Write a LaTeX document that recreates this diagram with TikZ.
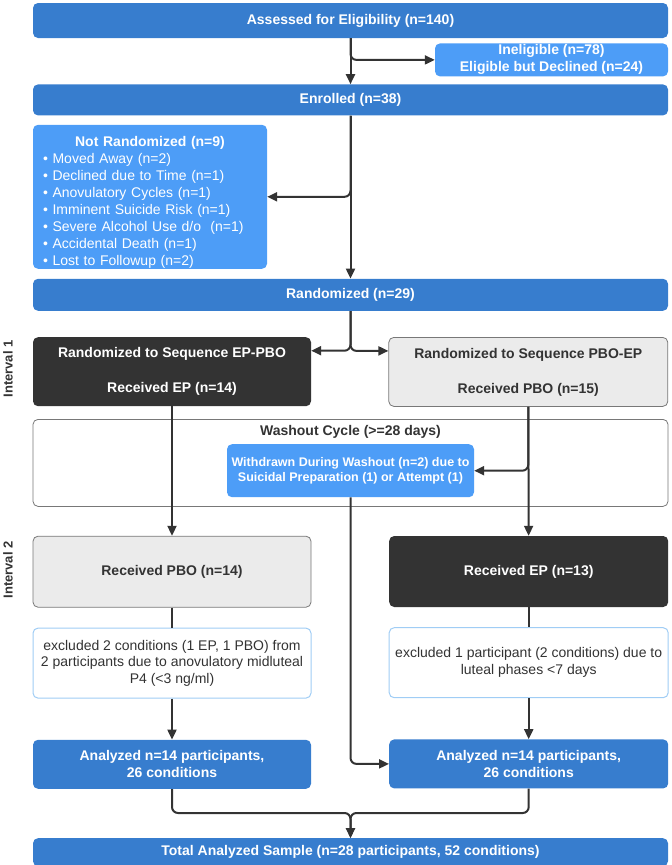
\documentclass[tikz,border=0pt]{standalone}
\usepackage{fontspec}
\setmainfont{Liberation Sans}
\usepackage{xcolor}
\usetikzlibrary{arrows.meta,positioning,calc}

\definecolor{mainblue}{RGB}{55,125,206}
\definecolor{paleblue}{RGB}{77,157,247}
\definecolor{darkfill}{RGB}{51,51,51}
\definecolor{greyfill}{RGB}{235,235,235}
\definecolor{greyedge}{RGB}{120,120,120}
\definecolor{noteedge}{RGB}{160,205,245}
\definecolor{inkgrey}{RGB}{51,51,51}

\begin{document}
\begin{tikzpicture}[
            x=1pt, y=1pt,
            box/.style={rectangle, rounded corners=5pt, align=center, inner sep=0pt, font=\fontsize{14}{17}\selectfont\bfseries},
            bluebox/.style={box, fill=mainblue, text=white},
            palebox/.style={box, fill=paleblue, text=white},
            darkbox/.style={box, fill=darkfill, text=white},
            greybox/.style={box, fill=greyfill, draw=greyedge, line width=0.8pt, text=inkgrey},
            notebox/.style={box, fill=white, draw=noteedge, line width=1pt, text=inkgrey, font=\fontsize{14}{16.7}\selectfont},
            interval/.style={rotate=90, text=inkgrey, font=\fontsize{13}{15}\selectfont\bfseries},
            line/.style={draw=inkgrey, line width=2pt, rounded corners=6pt},
            arrow/.style={line, ->, >={Triangle[length=10pt, width=9pt]}}
        ]
            \useasboundingbox (0,0) rectangle (672,-865);

            % Screening
            \node[bluebox, minimum width=635pt, minimum height=35pt] (assess) at (350.5,-20.5) {Assessed for Eligibility (n=140)};
            \node[palebox, minimum width=233pt, minimum height=33pt, below=5pt of assess.south east, anchor=north east] (inelig) {Ineligible (n=78)\\Eligible but Declined (n=24)};
            \node[bluebox, minimum width=635pt, minimum height=31pt, below=46pt of assess] (enroll) {Enrolled (n=38)};
            \node[palebox, align=left, text width=214pt, inner xsep=10pt, minimum width=234pt, minimum height=144pt, font=\fontsize{14}{17}\selectfont, below=9pt of enroll.south west, anchor=north west] (notrand) {\rule{0pt}{21pt}\makebox[214pt]{\textbf{Not Randomized (n=9)}}\\
                • Moved Away (n=2)\\
                • Declined due to Time (n=1)\\
                • Anovulatory Cycles (n=1)\\
                • Imminent Suicide Risk (n=1)\\
                • Severe Alcohol Use d/o\ \ (n=1)\\
                • Accidental Death (n=1)\\
                • Lost to Followup (n=2)};
            \node[bluebox, minimum width=635pt, minimum height=32pt, below=163pt of enroll] (rand) {Randomized (n=29)};

            % Interval 1
            \node[darkbox, minimum width=278pt, minimum height=69pt, below=26pt of rand.south west, anchor=north west] (seqa) {Randomized to Sequence EP-PBO\\[18pt]Received EP (n=14)};
            \node[greybox, minimum width=279pt, minimum height=69pt, below=26pt of rand.south east, anchor=north east] (seqb) {Randomized to Sequence PBO-EP\\[18pt]Received PBO (n=15)};

            % Washout
            \node[box, draw=greyedge, line width=0.8pt, fill=white, minimum width=635pt, minimum height=87pt, below=108pt of rand] (wash) {};
            \node[below=6pt of wash.north, inner sep=0pt, text=inkgrey, font=\fontsize{14}{17}\selectfont\bfseries] (washtitle) {Washout Cycle (>=28 days)};
            \node[palebox, minimum width=247pt, minimum height=53pt, font=\fontsize{12.5}{15}\selectfont\bfseries, below=25pt of wash.north] (withdr) {Withdrawn During Washout (n=2) due to\\Suicidal Preparation (1) or Attempt (1)};

            % Interval 2
            \node[greybox, minimum width=278pt, minimum height=71pt, below=29pt of wash.south west, anchor=north west] (recpbo) {Received PBO (n=14)};
            \node[darkbox, minimum width=279pt, minimum height=71pt, below=29pt of wash.south east, anchor=north east] (recep) {Received EP (n=13)};
            \node[notebox, minimum width=278pt, minimum height=70pt, below=20pt of recpbo] (exla) {excluded 2 conditions (1 EP, 1 PBO) from\\2 participants due to anovulatory midluteal\\P4 (<3 ng/ml)};
            \node[notebox, minimum width=279pt, minimum height=70pt, below=20pt of recep] (exlb) {excluded 1 participant (2 conditions) due to\\luteal phases <7 days};

            % Analysis
            \node[bluebox, minimum width=278pt, minimum height=49pt, below=41pt of exla] (ana) {Analyzed n=14 participants,\\26 conditions};
            \node[bluebox, minimum width=279pt, minimum height=49pt, below=41pt of exlb] (anb) {Analyzed n=14 participants,\\26 conditions};
            \node[bluebox, minimum width=635pt, minimum height=28pt, below=49pt of ana.south west, anchor=north west] (total) {Total Analyzed Sample (n=28 participants, 52 conditions)};

            % Labels
            \node[interval] (int1) at (8,-369) {Interval 1};
            \node[interval] (int2) at (8,-570) {Interval 2};

            % Arrows
            \draw[arrow] (assess) -- (enroll);
            \draw[arrow] (assess.south) |- (inelig.west);
            \draw[arrow] (enroll) -- (rand);
            \draw[arrow] (enroll.south) |- (notrand.east);
            \draw[arrow] (rand.south) |- ([yshift=21pt]seqa.east);
            \draw[arrow] (rand.south) |- ([yshift=21pt]seqb.west);
            \draw[arrow] (seqa) -- (recpbo);
            \draw[arrow] (seqb) -- (recep);
            \draw[arrow] (seqb.south) |- (withdr.east);
            \draw[arrow] (withdr.south) |- (anb.west);
            \draw[line] (recpbo) -- (exla);
            \draw[line] (recep) -- (exlb);
            \draw[arrow] (exla) -- (ana);
            \draw[arrow] (exlb) -- (anb);
            \coordinate (join) at ($(total.north)+(0,25)$);
            \draw[arrow] (ana.south) |- (join) -- (total.north);
            \draw[arrow] (anb.south) |- (join) -- (total.north);
        \end{tikzpicture}
\end{document}
